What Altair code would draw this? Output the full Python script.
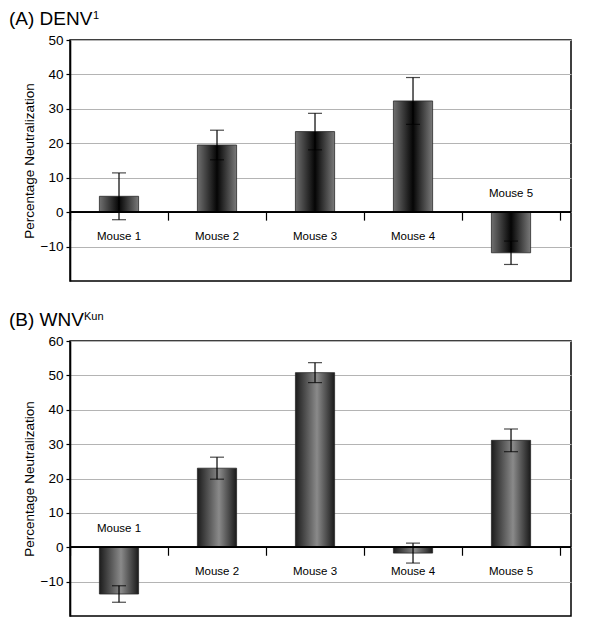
import altair as alt
import pandas as pd

mice = ["Mouse 1", "Mouse 2", "Mouse 3", "Mouse 4", "Mouse 5"]

denv_mean = [4.6, 19.5, 23.4, 32.3, -11.8]
denv_err = [6.8, 4.3, 5.3, 6.8, 3.4]
denv_label_above = [False, False, False, False, True]
denv_ticks = [-10, 0, 10, 20, 30, 40, 50]

wnv_mean = [-13.6, 23.0, 50.8, -1.7, 31.1]
wnv_err = [2.4, 3.2, 2.9, 2.9, 3.3]
wnv_label_above = [True, False, False, False, False]
wnv_ticks = [-10, 0, 10, 20, 30, 40, 50, 60]

FONT = "Liberation Sans"

grad_a = alt.Gradient(
    gradient="linear", x1=0, x2=1, y1=0, y2=0,
    stops=[alt.GradientStop(color="#707070", offset=0),
           alt.GradientStop(color="#050505", offset=0.5),
           alt.GradientStop(color="#7a7a7a", offset=1)],
)
grad_b = alt.Gradient(
    gradient="linear", x1=0, x2=1, y1=0, y2=0,
    stops=[alt.GradientStop(color="#1c1c1c", offset=0),
           alt.GradientStop(color="#8a8a8a", offset=0.55),
           alt.GradientStop(color="#1a1a1a", offset=1)],
)


def panel(mean, err, above, ticks, ymin, ymax, height, title_main, title_sup, sup_x, grad):
    df = pd.DataFrame({"mouse": mice, "value": mean, "err": err, "above": above})
    df["lo"] = df["value"] - df["err"]
    df["hi"] = df["value"] + df["err"]
    df["zero"] = 0
    yscale = alt.Scale(domain=[ymin, ymax], nice=False, zero=False)
    xoff = -height * (0 - ymin) / (ymax - ymin)
    xenc = alt.X(
        "mouse:N", sort=mice,
        scale=alt.Scale(paddingInner=0, paddingOuter=0.056, align=0),
        axis=alt.Axis(title=None, labels=False, domain=False, grid=False,
                      tickBand="extent", tickSize=8, tickColor="black",
                      tickWidth=1.2, offset=xoff),
    )
    yaxis = alt.Axis(
        values=ticks, grid=True, gridColor="#b4b4b4", gridWidth=1.2,
        domainColor="black", domainWidth=1.6, tickColor="black", tickSize=4,
        tickWidth=1.2, labelFontSize=13.5, labelColor="black", labelFont=FONT,
        labelPadding=3, title="Percentage Neutralization", titleFontSize=13.5,
        titleFontWeight="normal", titleFont=FONT, titleColor="black", titlePadding=4,
    )

    def Y(field):
        return alt.Y(field, scale=yscale, axis=yaxis)

    base = alt.Chart(df).encode(x=xenc)
    bars = base.mark_bar(
        width=alt.RelativeBandSize(0.4), color=grad, stroke="#2a2a2a", strokeWidth=0.8
    ).encode(y=Y("value:Q"), y2=alt.Y2("zero:Q"))
    zero_line = alt.Chart(df).mark_rule(color="black", strokeWidth=1.4).encode(
        y=Y("zero:Q")
    )
    err_rule = base.mark_rule(color="black", strokeWidth=1.2).encode(
        y=Y("lo:Q"), y2="hi:Q"
    )
    cap_lo = base.mark_tick(color="black", size=14, thickness=1.2).encode(y=Y("lo:Q"))
    cap_hi = base.mark_tick(color="black", size=14, thickness=1.2).encode(y=Y("hi:Q"))
    lab_below = base.transform_filter("!datum.above").mark_text(
        dy=25, fontSize=11.5, font=FONT, color="black", baseline="middle"
    ).encode(y=Y("zero:Q"), text="mouse:N")
    lab_above = base.transform_filter("datum.above").mark_text(
        dy=-18, fontSize=11.5, font=FONT, color="black", baseline="middle"
    ).encode(y=Y("zero:Q"), text="mouse:N")
    t_main = alt.Chart(pd.DataFrame({"t": [title_main]})).mark_text(
        align="left", baseline="top", fontSize=19, font=FONT, color="black"
    ).encode(x=alt.value(-61), y=alt.value(-30), text="t:N")
    t_sup = alt.Chart(pd.DataFrame({"t": [title_sup]})).mark_text(
        align="left", baseline="top", fontSize=11, font=FONT, color="black"
    ).encode(x=alt.value(sup_x), y=alt.value(-30), text="t:N")
    return alt.layer(
        bars, zero_line, err_rule, cap_lo, cap_hi, lab_below, lab_above, t_main, t_sup
    ).properties(width=501, height=height)


a = panel(denv_mean, denv_err, denv_label_above, denv_ticks, -20, 50, 241,
          "(A) DENV", "1", 23.0, grad_a)
b = panel(wnv_mean, wnv_err, wnv_label_above, wnv_ticks, -20, 60, 275,
          "(B) WNV", "Kun", 14.0, grad_b)

chart = alt.vconcat(a, b, spacing=28).properties(
    padding={"left": 0, "top": 1, "right": 5, "bottom": 0}
).configure_view(stroke="black", strokeWidth=1.5)

chart.save("out.html", embed_options={"renderer": "svg", "actions": False})
